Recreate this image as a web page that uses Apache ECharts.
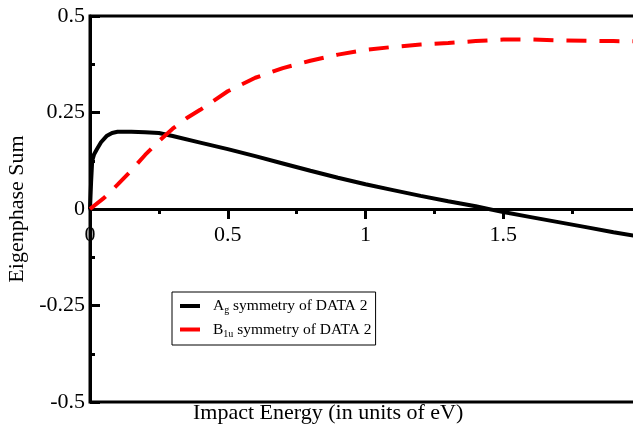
<!DOCTYPE html>
<html>
<head>
<meta charset="utf-8">
<script src="https://cdn.jsdelivr.net/npm/echarts@6/dist/echarts.min.js"></script>
<style>
  html, body { margin: 0; padding: 0; background: #fff; }
  #chart { width: 633px; height: 429px; }
</style>
</head>
<body>
<div id="chart"></div>
<script>
// A_g curve (black solid): [energy, eigenphase sum]
const agData = [
  [0, 0], [0.004, 0.07], [0.008, 0.125], [0.015, 0.142], [0.025, 0.155],
  [0.04, 0.173], [0.06, 0.189], [0.08, 0.197], [0.1, 0.2], [0.15, 0.2],
  [0.2, 0.199], [0.25, 0.197], [0.3, 0.189], [0.4, 0.172], [0.5, 0.155],
  [0.6, 0.137], [0.7, 0.118], [0.8, 0.099], [0.9, 0.081], [1.0, 0.064],
  [1.1, 0.049], [1.2, 0.034], [1.3, 0.02], [1.4, 0.007], [1.5, -0.008],
  [1.6, -0.021], [1.7, -0.034], [1.8, -0.047], [1.9, -0.06], [2.0, -0.072]
];
// B_1u curve (red dashed)
const b1uData = [
  [0, 0], [0.05, 0.028], [0.1, 0.063], [0.15, 0.1], [0.2, 0.14],
  [0.25, 0.176], [0.3, 0.208], [0.35, 0.235], [0.4, 0.257], [0.5, 0.305],
  [0.6, 0.34], [0.7, 0.365], [0.8, 0.384], [0.9, 0.4], [1.0, 0.412],
  [1.1, 0.42], [1.2, 0.426], [1.3, 0.43], [1.4, 0.435], [1.5, 0.439],
  [1.6, 0.439], [1.7, 0.437], [1.8, 0.436], [1.9, 0.435], [2.0, 0.434]
];
const seriesNames = ["Ag symmetry of DATA 2", "B1u symmetry of DATA 2"];
const legendLabels = {
  "Ag symmetry of DATA 2": "{n|A}{s|g}{n| symmetry of DATA 2}",
  "B1u symmetry of DATA 2": "{n|B}{s|1u}{n| symmetry of DATA 2}"
};

const font = "'Liberation Serif', 'DejaVu Serif', serif";
const chart = echarts.init(document.getElementById("chart"));

const option = {
  animation: false,
  grid: {
    left: 90,
    top: 16,
    width: 551,
    height: 386,
    outerBoundsMode: "none",
    show: true,
    borderColor: "#000",
    borderWidth: 3,
    backgroundColor: "transparent",
  },
  legend: {
    orient: "vertical",
    left: 172,
    top: 292,
    padding: [6, 4, 6, 8],
    itemGap: 6,
    itemWidth: 20,
    itemHeight: 4,
    icon: "rect",
    borderColor: "#000",
    borderWidth: 1,
    data: seriesNames,
    formatter: (name) => legendLabels[name],
    textStyle: {
      color: "#000",
      fontFamily: font,
      fontSize: 16,
      padding: [0, 0, 0, 8],
      rich: {
        n: { fontFamily: font, fontSize: 15.5, lineHeight: 19, color: "#000" },
        s: { fontFamily: font, fontSize: 10, lineHeight: 4, verticalAlign: "bottom", color: "#000" },
      },
    },
  },
  xAxis: {
    type: "value",
    min: 0,
    max: 2,
    interval: 0.5,
    offset: -193,
    axisLine: { onZero: false, lineStyle: { color: "#000", width: 3 } },
    axisTick: { length: 10, lineStyle: { color: "#000", width: 3 } },
    minorTick: { show: true, splitNumber: 2, length: 5, lineStyle: { color: "#000", width: 3 } },
    splitLine: { show: false },
    axisLabel: {
      color: "#000",
      fontFamily: font,
      fontSize: 22,
      margin: 15,
      formatter: (v) => String(v),
    },
  },
  yAxis: {
    type: "value",
    min: -0.5,
    max: 0.5,
    interval: 0.25,
    name: "Eigenphase Sum",
    nameLocation: "middle",
    nameGap: 62,
    nameTextStyle: { color: "#000", fontFamily: font, fontSize: 22 },
    axisLine: { show: true, lineStyle: { color: "#000", width: 3 } },
    axisTick: { inside: true, length: 10, lineStyle: { color: "#000", width: 3 } },
    minorTick: { show: true, splitNumber: 2, length: 5, lineStyle: { color: "#000", width: 3 } },
    splitLine: { show: false },
    axisLabel: {
      color: "#000",
      fontFamily: font,
      fontSize: 22,
      margin: 5,
      formatter: (v) => String(v),
    },
  },
  graphic: [
    {
      type: "text",
      left: 193,
      top: 402,
      style: {
        text: "Impact Energy (in units of eV)",
        fill: "#000",
        font: "22px " + font,
      },
    },
  ],
  series: [
    {
      name: seriesNames[0],
      type: "line",
      data: agData,
      showSymbol: false,
      lineStyle: { color: "#000", width: 4 },
      itemStyle: { color: "#000" },
    },
    {
      name: seriesNames[1],
      type: "line",
      data: b1uData,
      showSymbol: false,
      lineStyle: { color: "#ff0000", width: 4, type: [20, 13] },
      itemStyle: { color: "#ff0000" },
    },
  ],
};
chart.setOption(option);
</script>
</body>
</html>
